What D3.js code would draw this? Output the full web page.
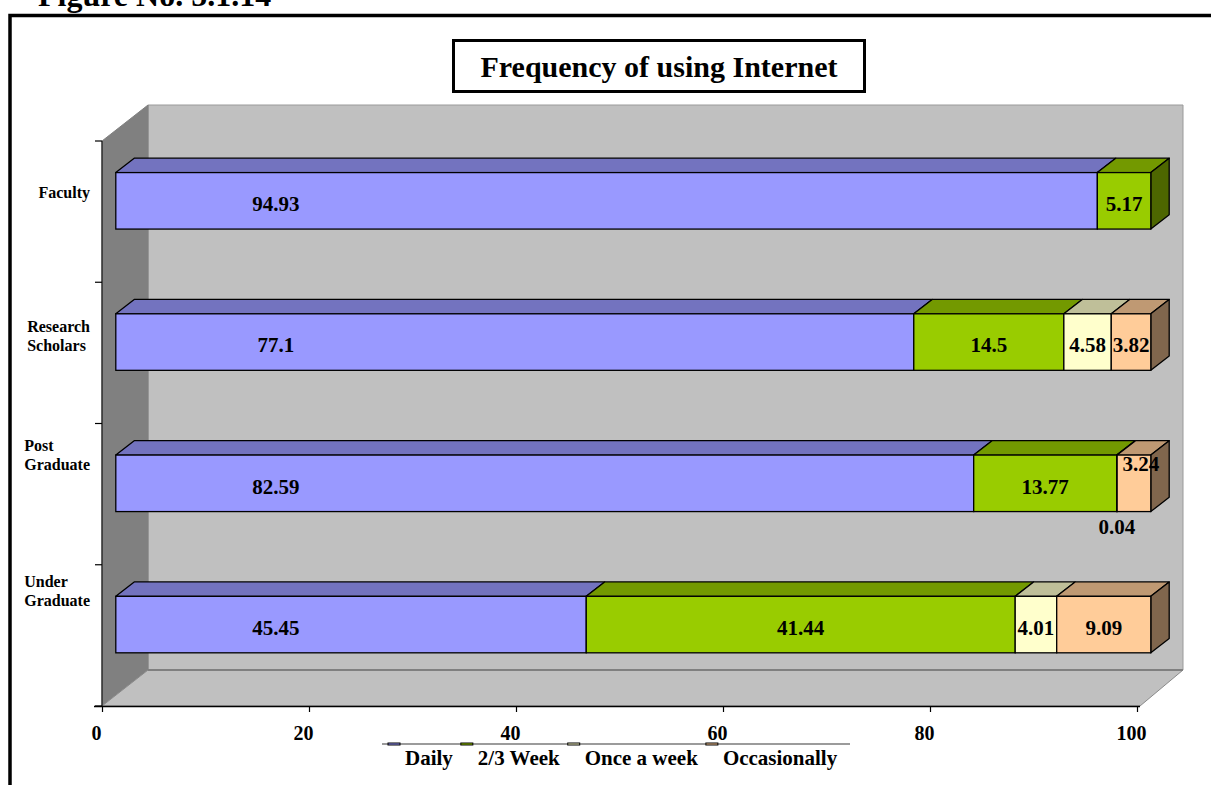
<!DOCTYPE html>
<html>
<head>
<meta charset="utf-8">
<script src="https://cdn.jsdelivr.net/npm/d3@7"></script>
<style>
  html, body { margin: 0; padding: 0; background: #fff; }
  svg { display: block; }
  text { font-family: "Liberation Serif", "Times New Roman", serif; font-weight: bold; fill: #000; }
</style>
</head>
<body>
<svg id="chart" width="1211" height="785"></svg>
<script>
// Respondent groups, top to bottom
const categories = ["Faculty", "Research Scholars", "Post Graduate", "Under Graduate"];
const categoryLines = [["Faculty"], ["Research", "Scholars"], ["Post", "Graduate"], ["Under", "Graduate"]];

// Frequency series (percent of respondents)
const seriesNames = ["Daily", "2/3 Week", "Once a week", "Occasionally"];
const daily        = [94.93, 77.1, 82.59, 45.45];
const twoThreeWeek = [5.17, 14.5, 13.77, 41.44];
const onceAWeek    = [0, 4.58, 0.04, 4.01];
const occasionally = [0, 3.82, 3.24, 9.09];

// Value axis ticks
const tickValues = [0, 20, 40, 60, 80, 100];

// Face colours per series: front, top, side
const palette = {
  "Daily":        { front: "#9999FF", top: "#7373BF", side: "#4D4D80" },
  "2/3 Week":     { front: "#99CC00", top: "#739900", side: "#4D6600" },
  "Once a week":  { front: "#FFFFCC", top: "#BFBF99", side: "#808066" },
  "Occasionally": { front: "#FFCC99", top: "#BF9973", side: "#80664D" }
};

const seriesValues = [daily, twoThreeWeek, onceAWeek, occasionally];
const rows = categories.map((c, i) => {
  const r = { cat: c };
  seriesNames.forEach((s, k) => { r[s] = seriesValues[k][i]; });
  return r;
});

// 100% stacked layout
const stacked = d3.stack().keys(seriesNames).offset(d3.stackOffsetExpand)(rows);

const svg = d3.select("#chart");
const serif = '"Liberation Serif", "Times New Roman", serif';

// Scales on the front plane of the plot box
const x = d3.scaleLinear().domain([0, 100]).range([102, 1137]);
const y = d3.scaleBand().domain(categories).range([141, 706]).padding(0);
const depth = { dx: 46, dy: 36 };
const barFrontDepth = 0.3, barBackDepth = 0.7, barFill = 0.4;

const x0 = x(0), x1 = x(100), yTop = y.range()[0], yBottom = y.range()[1];

// Outer frame
svg.append("path")
  .attr("d", `M10,785 L10,15.5 L1211,15.5`)
  .attr("fill", "none").attr("stroke", "#000").attr("stroke-width", 3.5);

svg.append("text")
  .attr("x", 38).attr("y", 6)
  .style("font-size", "32px")
  .text("Figure No. 5.1.14");

// Walls and floor
const walls = svg.append("g");
walls.append("polygon")
  .attr("points", [[x0 + depth.dx, yTop - depth.dy], [x1 + depth.dx, yTop - depth.dy],
                   [x1 + depth.dx, yBottom - depth.dy], [x0 + depth.dx, yBottom - depth.dy]].join(" "))
  .attr("fill", "#C0C0C0").attr("stroke", "#9a9a9a").attr("stroke-width", 1);
walls.append("polygon")
  .attr("points", [[x0, yTop], [x0 + depth.dx, yTop - depth.dy],
                   [x0 + depth.dx, yBottom - depth.dy], [x0, yBottom]].join(" "))
  .attr("fill", "#808080").attr("stroke", "#808080").attr("stroke-width", 1);
walls.append("polygon")
  .attr("points", [[x0, yBottom], [x0 + depth.dx, yBottom - depth.dy],
                   [x1 + depth.dx, yBottom - depth.dy], [x1 + 3, yBottom]].join(" "))
  .attr("fill", "#C0C0C0").attr("stroke", "#8a8a8a").attr("stroke-width", 1);
walls.append("line")
  .attr("x1", x0 + depth.dx).attr("x2", x1 + depth.dx)
  .attr("y1", yBottom - depth.dy).attr("y2", yBottom - depth.dy)
  .attr("stroke", "#808080").attr("stroke-width", 2);

// Value axis along the front edge of the floor
const xAxis = d3.axisBottom(x).tickValues(tickValues).tickSize(6).tickSizeOuter(0).tickPadding(4);
const gx = svg.append("g").attr("transform", `translate(0,${yBottom})`).call(xAxis);
gx.select(".domain").attr("stroke", "#000").attr("stroke-width", 1.5)
  .attr("d", `M${x0 - 8},0.5H${x1 + 3}`);
gx.selectAll(".tick line").attr("stroke", "#000").attr("stroke-width", 1.2);
gx.selectAll(".tick text")
  .attr("fill", "#000")
  .attr("dx", -6).attr("y", 27).attr("dy", "0.35em")
  .style("font-family", serif).style("font-weight", "bold").style("font-size", "20px");

// Category axis along the left wall's front edge
const boundaries = categories.map(c => y(c)).concat([yBottom]);
const gy = svg.append("g");
gy.append("line").attr("x1", x0).attr("x2", x0).attr("y1", yTop).attr("y2", yBottom)
  .attr("stroke", "#000").attr("stroke-width", 1);
gy.selectAll("line.tick").data(boundaries).join("line").attr("class", "tick")
  .attr("x1", x0 - 7).attr("x2", x0).attr("y1", d => d).attr("y2", d => d)
  .attr("stroke", "#000").attr("stroke-width", 1.2);

// Category labels (wrapped, left-aligned block ending near the axis)
const labelBlockY = [-19, -17, -39, -44];
categories.forEach((c, i) => {
  const lines = categoryLines[i];
  const g = gy.append("g");
  const cy = y(c) + y.bandwidth() / 2 + labelBlockY[i];
  const lh = 19;
  const texts = lines.map((ln, j) => g.append("text")
    .attr("y", cy + (j - (lines.length - 1) / 2) * lh)
    .attr("dy", "0.35em")
    .style("font-size", "16px")
    .text(ln));
  const maxW = d3.max(texts, t => t.node().getComputedTextLength());
  const left = 90 - maxW;
  texts.forEach(t => t.attr("x", left));
});

// 3D bars
const bw = y.bandwidth();
const fdx = barFrontDepth * depth.dx, fdy = barFrontDepth * depth.dy;
const tdx = (barBackDepth - barFrontDepth) * depth.dx, tdy = (barBackDepth - barFrontDepth) * depth.dy;

const barsG = svg.append("g");
const labelsG = svg.append("g");

categories.forEach((c, ci) => {
  const faceTop = y(c) + bw / 2 - barFill * bw / 2 - fdy;
  const faceBot = faceTop + barFill * bw;
  const segs = stacked.map((s, k) => ({
    key: s.key, k, v0: s[ci][0] * 100, v1: s[ci][1] * 100, value: seriesValues[k][ci]
  })).filter(d => d.value > 0);
  const last = segs[segs.length - 1];

  segs.forEach((d, idx) => {
    const col = palette[d.key];
    const a = x(d.v0) + fdx, b = x(d.v1) + fdx;
    const g = barsG.append("g");
    g.append("polygon")
      .attr("points", [[a, faceTop], [b, faceTop], [b + tdx, faceTop - tdy], [a + tdx, faceTop - tdy]].join(" "))
      .attr("fill", col.top).attr("stroke", "#000").attr("stroke-width", 1.3).attr("stroke-linejoin", "round");
    if (d === last) {
      g.append("polygon")
        .attr("points", [[b, faceTop], [b + tdx, faceTop - tdy], [b + tdx, faceBot - tdy], [b, faceBot]].join(" "))
        .attr("fill", col.side).attr("stroke", "#000").attr("stroke-width", 1.3).attr("stroke-linejoin", "round");
    }
    g.append("rect")
      .attr("x", a).attr("y", faceTop).attr("width", Math.max(0, b - a)).attr("height", faceBot - faceTop)
      .attr("fill", col.front).attr("stroke", "#000").attr("stroke-width", 1.3);

    // value label
    let lx = d.k === 0 ? x(0) + fdx + 160 : (a + b) / 2;
    let ly = (faceTop + faceBot) / 2 + 3;
    const prev = segs[idx - 1];
    if (d.value < 1) { ly = faceBot + 15; }
    else if (prev && prev.value < 1) { ly = faceTop + 9; lx += 7; }
    labelsG.append("text")
      .attr("x", lx).attr("y", ly).attr("dy", "0.35em")
      .attr("text-anchor", "middle")
      .style("font-size", "21px")
      .text(d.value);
  });
});

// Title box
const titleG = svg.append("g");
titleG.append("rect")
  .attr("x", 453.5).attr("y", 40.5).attr("width", 411).attr("height", 51)
  .attr("fill", "#fff").attr("stroke", "#000").attr("stroke-width", 3);
titleG.append("text")
  .attr("x", 659).attr("y", 66).attr("dy", "0.35em").attr("text-anchor", "middle")
  .style("font-size", "30px")
  .text("Frequency of using Internet");

// Legend
const legendG = svg.append("g");
legendG.append("line").attr("x1", 382).attr("x2", 850).attr("y1", 744).attr("y2", 744)
  .attr("stroke", "#7a7a7a").attr("stroke-width", 1.5);
let lxPos = 388;
seriesNames.forEach(s => {
  legendG.append("rect").attr("x", lxPos).attr("y", 743).attr("width", 12).attr("height", 2)
    .attr("fill", palette[s].front).attr("stroke", "#000").attr("stroke-width", 1);
  const t = legendG.append("text").attr("x", lxPos + 17).attr("y", 758).attr("dy", "0.35em")
    .style("font-size", "21px").text(s);
  lxPos = lxPos + 17 + t.node().getComputedTextLength() + 8;
});
</script>
</body>
</html>
